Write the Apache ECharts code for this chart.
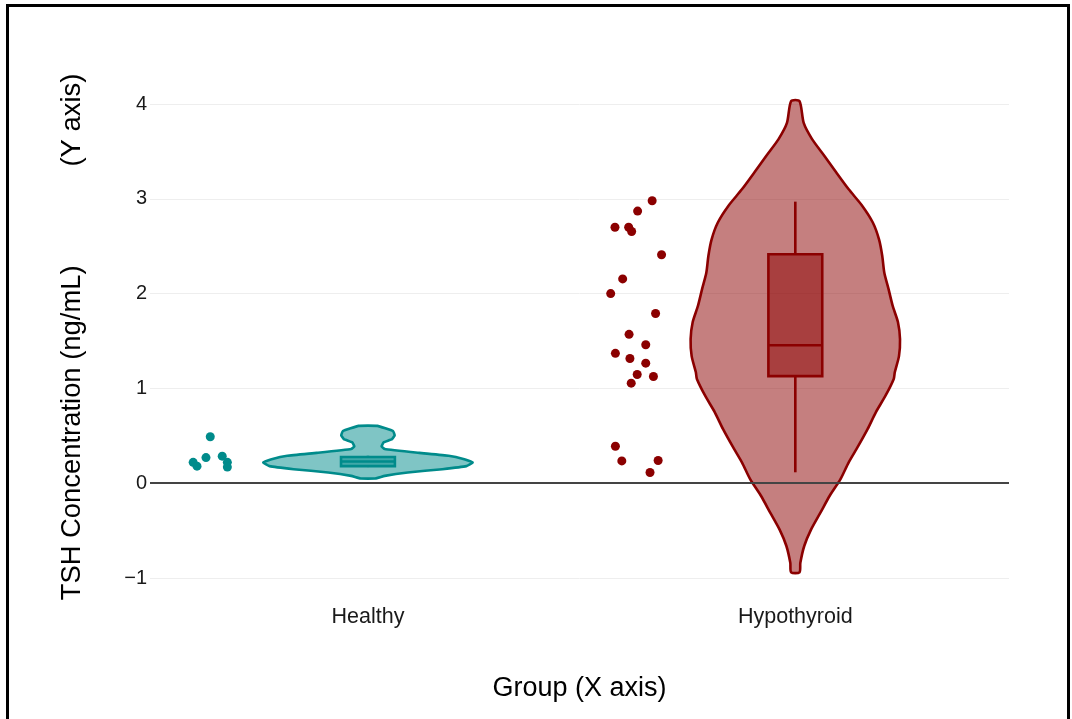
<!DOCTYPE html>
<html>
<head>
<meta charset="utf-8">
<script src="https://cdn.jsdelivr.net/npm/echarts@6/dist/echarts.min.js"></script>
<style>
html,body{margin:0;padding:0;background:#fff;}
#chart{width:1072px;height:719px;}
</style>
</head>
<body>
<div id="chart"></div>
<script>
// ---- data ----
const categories = ['Healthy', 'Hypothyroid'];
const yTicks = [-1, 0, 1, 2, 3, 4];

const healthyPoints = [0.22, 0.18, 0.27, 0.49, 0.285, 0.22, 0.17];
const healthyJitter = [-0.409, -0.400, -0.379, -0.369, -0.341, -0.329, -0.329];

const hypoPoints = [2.98, 2.87, 2.70, 2.70, 2.655, 2.41, 2.155, 2.00, 1.79, 1.57, 1.46,
  1.37, 1.315, 1.266, 1.147, 1.125, 1.055, 0.39, 0.235, 0.24, 0.113];
const hypoJitter = [-0.335, -0.369, -0.422, -0.390, -0.383, -0.313, -0.404, -0.432, -0.327, -0.389, -0.350,
  -0.421, -0.387, -0.350, -0.370, -0.332, -0.384, -0.421, -0.406, -0.321, -0.340];

// violin density profiles (value, relative half-width)
const healthyViolinY = [0.605, 0.55, 0.505, 0.464, 0.43, 0.39, 0.36, 0.32, 0.29, 0.253, 0.218, 0.18, 0.148, 0.113, 0.077, 0.05];
const healthyViolinW = [0.09, 0.24, 0.255, 0.23, 0.15, 0.13, 0.16, 0.49, 0.77, 0.92, 1.0, 0.94, 0.71, 0.38, 0.16, 0.07];

const hypoViolinY = [4.03, 3.80, 3.63, 3.45, 3.28, 3.10, 2.925, 2.75, 2.57, 2.40, 2.22, 2.05, 1.87, 1.70, 1.52,
  1.34, 1.17, 1.10, 0.92, 0.75, 0.57, 0.39, 0.22, 0.04, -0.13, -0.31, -0.49, -0.66, -0.84, -0.94];
const hypoViolinW = [0.04, 0.08, 0.16, 0.28, 0.39, 0.51, 0.64, 0.74, 0.80, 0.83, 0.85, 0.89, 0.93, 0.98, 1.0,
  0.99, 0.95, 0.94, 0.86, 0.77, 0.69, 0.60, 0.51, 0.43, 0.33, 0.24, 0.15, 0.086, 0.048, 0.04];

// box stats: [whiskerLow, q1, median, q3, whiskerHigh]
const healthyBox = [0.17, 0.18, 0.229, 0.277, 0.29];
const hypoBox = [0.115, 1.13, 1.455, 2.415, 2.97];

const colors = ['#008B8B', '#8B0000'];
const fills = ['rgba(0,139,139,0.5)', 'rgba(139,0,0,0.5)'];

// ---- build ----
const groups = [
  {y: healthyViolinY, w: healthyViolinW, box: healthyBox, smooth: 0.1},
  {y: hypoViolinY, w: hypoViolinW, box: hypoBox, smooth: 0.25}
];
const VIOLIN_HALF = 0.245;
const BOX_HALF = 0.063;

function renderViolin(params, api) {
  const i = params.dataIndex;
  const g = groups[i];
  const c = api.value(0);
  const left = [], right = [];
  for (let k = 0; k < g.y.length; k++) {
    left.push(api.coord([c - g.w[k] * VIOLIN_HALF, g.y[k]]));
    right.push(api.coord([c + g.w[k] * VIOLIN_HALF, g.y[k]]));
  }
  const pts = left.concat(right.reverse());
  const b = g.box;
  const tl = api.coord([c - BOX_HALF, b[3]]);
  const br = api.coord([c + BOX_HALF, b[1]]);
  const mL = api.coord([c - BOX_HALF, b[2]]);
  const mR = api.coord([c + BOX_HALF, b[2]]);
  const wLo = api.coord([c, b[0]]);
  const q1 = api.coord([c, b[1]]);
  const q3 = api.coord([c, b[3]]);
  const wHi = api.coord([c, b[4]]);
  const lw = 2.6;
  return {
    type: 'group',
    children: [
      {type: 'polygon', shape: {points: pts, smooth: g.smooth},
       style: {fill: fills[i], stroke: colors[i], lineWidth: lw, lineJoin: 'round'}},
      {type: 'line', shape: {x1: q3[0], y1: q3[1], x2: wHi[0], y2: wHi[1]},
       style: {stroke: colors[i], lineWidth: lw}},
      {type: 'line', shape: {x1: q1[0], y1: q1[1], x2: wLo[0], y2: wLo[1]},
       style: {stroke: colors[i], lineWidth: lw}},
      {type: 'rect', shape: {x: tl[0], y: tl[1], width: br[0] - tl[0], height: br[1] - tl[1]},
       style: {fill: fills[i], stroke: colors[i], lineWidth: lw}},
      {type: 'line', shape: {x1: mL[0], y1: mL[1], x2: mR[0], y2: mR[1]},
       style: {stroke: colors[i], lineWidth: lw}}
    ]
  };
}

const healthyScatter = healthyPoints.map((v, k) => [0 + healthyJitter[k], v]);
const hypoScatter = hypoPoints.map((v, k) => [1 + hypoJitter[k], v]);

const FONT = "'Liberation Sans', Arial, sans-serif";
const chart = echarts.init(document.getElementById('chart'), null, {renderer: 'canvas'});
chart.setOption({
  animation: false,
  backgroundColor: '#fff',
  textStyle: {fontFamily: FONT},
  grid: {left: 150, right: 63, top: 104, bottom: 141, containLabel: false},
  xAxis: {
    type: 'value', min: -0.51, max: 1.5,
    name: 'Group (X axis)', nameLocation: 'middle', nameGap: 97,
    nameTextStyle: {fontSize: 27, color: '#000', fontFamily: FONT},
    axisLine: {show: false}, axisTick: {show: false}, splitLine: {show: false},
    axisLabel: {
      customValues: [0, 1], margin: 28, fontSize: 21.5, color: '#1a1a1a', fontFamily: FONT,
      formatter: v => categories[Math.round(v)] || ''
    }
  },
  yAxis: {
    type: 'value', min: yTicks[0], max: yTicks[yTicks.length - 1], interval: 1,
    name: 'TSH Concentration (ng/mL)' + ' '.repeat(13) + '(Y axis)',
    nameLocation: 'middle', nameGap: 64,
    nameTextStyle: {fontSize: 27.4, color: '#000', fontFamily: FONT, padding: [0, 0, 0, 8]},
    axisLine: {show: false}, axisTick: {show: false},
    splitLine: {show: true, lineStyle: {color: '#eeeeee', width: 1}},
    axisLabel: {
      margin: 3, fontSize: 20, color: '#1a1a1a', fontFamily: FONT,
      formatter: v => String(v).replace('-', '\u2212')
    }
  },
  graphic: [{
    type: 'rect', z: 100, silent: true,
    shape: {x: 7.5, y: 5.5, width: 1061, height: 730},
    style: {fill: 'none', stroke: '#000', lineWidth: 3}
  }],
  series: [
    {
      type: 'line', data: [], z: 1, silent: true,
      markLine: {
        silent: true, symbol: ['none', 'none'], label: {show: false},
        lineStyle: {color: '#444', width: 2, type: 'solid'},
        emphasis: {disabled: true},
        data: [{yAxis: 0}]
      }
    },
    {
      type: 'custom', renderItem: renderViolin, z: 2, silent: true,
      data: [[0], [1]]
    },
    {
      type: 'scatter', data: healthyScatter, symbolSize: 9, z: 3,
      itemStyle: {color: colors[0], opacity: 1}
    },
    {
      type: 'scatter', data: hypoScatter, symbolSize: 9, z: 3,
      itemStyle: {color: colors[1], opacity: 1}
    }
  ]
});
</script>
</body>
</html>
